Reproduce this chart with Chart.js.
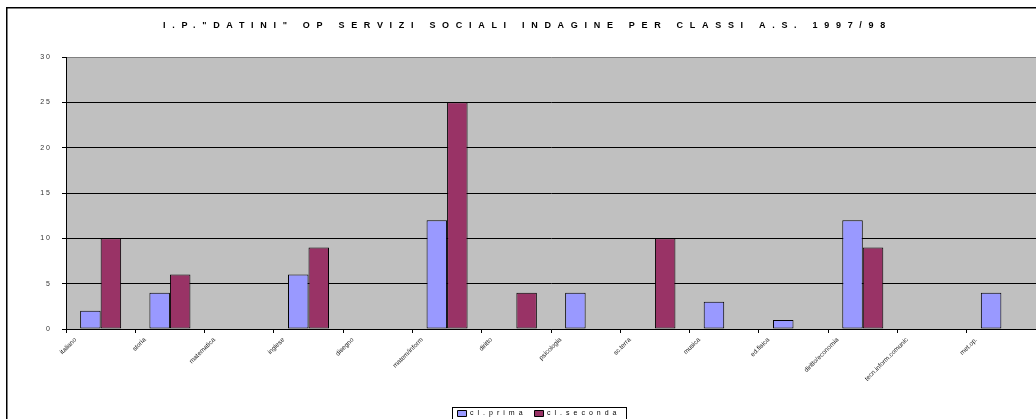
<!DOCTYPE html>
<html><head><meta charset="utf-8">
<script src="https://cdn.jsdelivr.net/npm/chart.js@4.4.0/dist/chart.umd.min.js"></script>
<style>html,body{margin:0;padding:0;background:#fff;} canvas{display:block;}</style>
</head><body>
<canvas id="c" width="1036" height="419"></canvas>
<script>
const chartTitle = 'I.P."DATINI" OP SERVIZI SOCIALI INDAGINE PER CLASSI A.S. 1997/98';
const categories = ['italiano','storia','matematica','inglese','disegno','matem/inform','diritto','psicologia','sc.terra','musica','ed.fisica','diritto/economia','tecn.inform.comunic','met.op.'];
const seriesNames = ['cl.prima','cl.seconda'];
const clPrima   = [2, 4, 0, 6, 0, 12, 0, 4, 0, 3, 1, 12, 0, 4];
const clSeconda = [10, 6, 0, 9, 0, 25, 4, 0, 10, 0, 0, 9, 0, 0];
const yTickLabels = ['0','5','10','15','20','25','30'];

const FONT = "'Liberation Sans', Arial, sans-serif";

function wrap(obj, name, spacing, dx, after) {
  const orig = obj[name];
  obj[name] = function(...args) {
    const ctx = this.ctx;
    ctx.save();
    ctx.letterSpacing = spacing;
    if (dx) ctx.translate(dx, 0);
    const r = orig.apply(this, args);
    if (after) after.call(this, ctx);
    ctx.restore();
    return r;
  };
}

const stylePlugin = {
  id: 'excelStyle',
  beforeLayout(chart) {
    if (chart.$wrapped) return;
    chart.$wrapped = true;
    wrap(chart.titleBlock, 'draw', '6.7px', 9.5);
    wrap(chart.legend, 'fit', '4px', 0);
    wrap(chart.legend, 'draw', '4px', 21, function(ctx) {
      const hb = this.legendHitBoxes;
      if (!hb || !hb.length) return;
      const first = hb[0], last = hb[hb.length - 1];
      const l = Math.round(first.left - 6) + 0.5;
      const r = Math.round(last.left + last.width + 6) + 0.5;
      const t = Math.round(first.top + first.height / 2 - 7) + 0.5;
      ctx.letterSpacing = '0px';
      ctx.strokeStyle = '#000';
      ctx.lineWidth = 1;
      ctx.strokeRect(l, t, r - l, 30);
    });
    wrap(chart.scales.y, 'drawLabels', '2px', 0);
  },
  beforeDraw(chart) {
    const {ctx, chartArea: a} = chart;
    ctx.save();
    ctx.fillStyle = '#fff';
    ctx.fillRect(0, 0, chart.width, chart.height);
    ctx.fillStyle = '#C0C0C0';
    ctx.fillRect(a.left, a.top, a.right - a.left, a.bottom - a.top);
    ctx.strokeStyle = '#000';
    ctx.lineWidth = 1.5;
    ctx.strokeRect(6.75, 7.75, 3000, 3000);
    ctx.restore();
  }
};

const zeroless = (c) => (c.raw === 0 ? 0 : 1);

new Chart(document.getElementById('c'), {
  type: 'bar',
  data: {
    labels: categories,
    datasets: [
      { label: seriesNames[0], data: clPrima, backgroundColor: '#9999FF', borderColor: '#000', borderWidth: zeroless, borderSkipped: false },
      { label: seriesNames[1], data: clSeconda, backgroundColor: '#993366', borderColor: '#000', borderWidth: zeroless, borderSkipped: false }
    ]
  },
  options: {
    responsive: false,
    animation: false,
    devicePixelRatio: 1,
    categoryPercentage: 0.592,
    barPercentage: 1,
    layout: { padding: { left: 0, right: 0, top: 0, bottom: -8 } },
    plugins: {
      tooltip: { enabled: false },
      title: {
        display: true,
        text: chartTitle,
        color: '#000',
        font: { family: FONT, size: 9, weight: 'bold', lineHeight: 1.2 },
        padding: { top: 20.6, bottom: 25.6 }
      },
      legend: {
        display: true,
        position: 'bottom',
        labels: {
          boxWidth: 9, boxHeight: 6, padding: 8, color: '#000',
          font: { family: FONT, size: 7 }
        }
      }
    },
    scales: {
      x: {
        grid: { display: true, drawOnChartArea: false, drawTicks: true, tickLength: 4, color: '#000', tickColor: '#000', offset: true },
        border: { display: true, color: '#000', width: 1 },
        ticks: {
          autoSkip: false, maxRotation: 45, minRotation: 45, labelOffset: -25, padding: 3,
          color: '#222', font: { family: FONT, size: 6.5 }
        },
        afterFit(s) { s.height = 73; }
      },
      y: {
        min: 0, max: 30,
        ticks: {
          stepSize: 5, padding: 10, color: '#333',
          font: { family: FONT, size: 7 },
          callback: (v, i) => yTickLabels[i]
        },
        grid: {
          color: (c) => (c.tick && c.tick.value === 30 ? '#808080' : '#000'),
          tickColor: '#000', tickLength: 4, lineWidth: 1
        },
        border: { display: true, color: '#000', width: 1 },
        afterFit(s) { s.width = 66; }
      }
    }
  },
  plugins: [stylePlugin]
});
</script>
</body></html>
